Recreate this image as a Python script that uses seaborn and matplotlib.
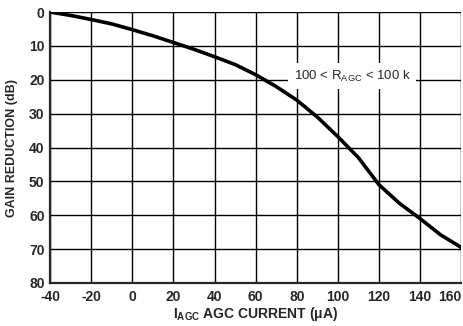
import matplotlib
matplotlib.use("Agg")
import matplotlib.pyplot as plt
import seaborn as sns
import pandas as pd

current_ua = [-40, -30, -20, -10, 0, 10, 20, 30, 40, 50, 60, 70, 80, 90, 100, 110, 120, 130, 140, 150, 160]
gain_reduction_db = [0, 1.0, 2.2, 3.5, 5.2, 7.0, 9.0, 11.0, 13.2, 15.5, 18.5, 22.0, 26.0, 31.0, 36.8, 43.0, 51.0, 56.5, 61.0, 65.8, 69.5]
x_ticks = [-40, -20, 0, 20, 40, 60, 80, 100, 120, 140, 160]
y_ticks = [0, 10, 20, 30, 40, 50, 60, 70, 80]

sns.set_style("white")
font = ["Liberation Sans", "DejaVu Sans"]
plt.rcParams["font.family"] = font
plt.rcParams["mathtext.fontset"] = "custom"
plt.rcParams["mathtext.rm"] = "Liberation Sans"

df = pd.DataFrame({"x": current_ua, "y": gain_reduction_db})

fig = plt.figure(figsize=(4.64, 3.26), dpi=100)
ax = fig.add_axes([0.108, 0.132, 0.886, 0.831])

for xv in x_ticks:
    ax.axvline(xv, color="black", lw=1.0, zorder=1)
for yv in y_ticks:
    ax.axhline(yv, color="black", lw=1.0, zorder=1)

ax.text(107, 19, r"100 < $\mathregular{R_{AGC}}$ < 100 k", fontsize=9.5, ha="center", va="center",
        zorder=4, bbox=dict(facecolor="white", edgecolor="none", pad=4))

sns.lineplot(data=df, x="x", y="y", ax=ax, color="black", lw=2.6, zorder=5)

ax.set_xlim(-40, 160)
ax.set_ylim(80, 0)
ax.set_xticks(x_ticks)
ax.set_yticks(y_ticks)
ax.set_xticklabels([str(v) for v in x_ticks], fontsize=10, fontweight="bold")
ax.set_yticklabels([str(v) for v in y_ticks], fontsize=10, fontweight="bold")
ax.get_xticklabels()[-1].set_ha("right")
ax.tick_params(axis="x", length=0, pad=5)
ax.tick_params(axis="y", length=0, pad=4)
for s in ax.spines.values():
    s.set_visible(False)
ax.spines["left"].set_visible(True)
ax.spines["bottom"].set_visible(True)
ax.spines["left"].set_linewidth(1.6)
ax.spines["bottom"].set_linewidth(1.6)

ax.set_xlabel(r"$\mathregular{I_{AGC}}$ AGC CURRENT (μA)", fontsize=10, fontweight="bold", labelpad=1)
ax.set_ylabel("GAIN REDUCTION (dB)", fontsize=9, fontweight="bold", labelpad=8)

fig.savefig("out.png", dpi=100)
